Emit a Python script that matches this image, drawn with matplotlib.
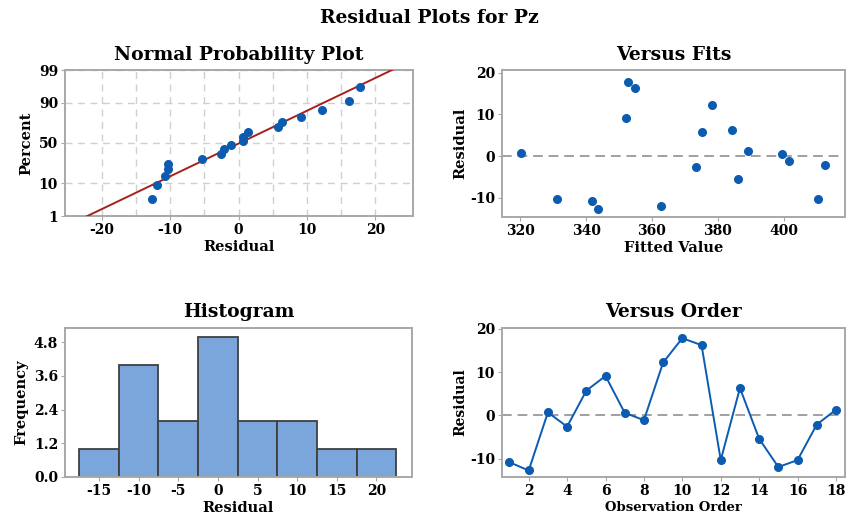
import numpy as np
import matplotlib
matplotlib.use("Agg")
import matplotlib.pyplot as plt
from statistics import NormalDist

# Residuos (orden de observacion 1..18)
orden = [1, 2, 3, 4, 5, 6, 7, 8, 9, 10, 11, 12, 13, 14, 15, 16, 17, 18]
residuos = [-10.8, -12.7, 0.7, -2.6, 5.7, 9.1, 0.6, -1.1, 12.2,
            17.8, 16.2, -10.3, 6.3, -5.4, -11.9, -10.3, -2.1, 1.3]
# Valores ajustados para cada observacion
ajustados = [341.8, 343.6, 320.3, 373.3, 375.1, 352.0, 399.6, 401.6, 378.4,
             352.8, 354.7, 331.2, 384.2, 386.1, 362.8, 410.6, 412.5, 389.2]
# Bordes de las clases del histograma
bordes_hist = [-17.5, -12.5, -7.5, -2.5, 2.5, 7.5, 12.5, 17.5, 22.5]
ticks_pct = [1, 10, 50, 90, 99]

azul = "#0B5BB0"
gris_borde = "#A8A8A8"
plt.rcParams['font.family'] = ['DejaVu Serif']
plt.rcParams['font.weight'] = 'bold'
plt.rcParams['axes.labelweight'] = 'bold'
plt.rcParams['axes.titleweight'] = 'bold'
plt.rcParams['axes.unicode_minus'] = False

fig = plt.figure(figsize=(8.59, 5.24), dpi=100)
W, H = 859, 524

def crear_ejes(x0, y0, x1, y1):
    ax = fig.add_axes([x0 / W, 1 - y1 / H, (x1 - x0) / W, (y1 - y0) / H])
    for s in ax.spines.values():
        s.set_color(gris_borde)
        s.set_linewidth(1.4)
    ax.tick_params(labelsize=10, length=3, color=gris_borde, pad=2)
    return ax

fig.text(0.5, 1 - 18 / H, "Residual Plots for Pz", ha="center", va="center",
         fontsize=13.5, fontweight="bold")

# ---- Normal Probability Plot ----
ax1 = crear_ejes(65, 70, 413, 216)
nd = NormalDist()
n = len(residuos)
r_ord = np.sort(residuos)
pct = (np.arange(1, n + 1) - 0.3) / (n + 0.4)
z = np.array([nd.inv_cdf(p) for p in pct])
media = np.mean(residuos)
desv = np.std(residuos, ddof=1)
z_min = nd.inv_cdf(0.01)
z_max = nd.inv_cdf(0.99)
zl = np.linspace(z_min - 0.3, z_max + 0.3, 50)
ax1.plot(media + desv * zl, zl, color="#A8201A", lw=1.4, zorder=3)
ax1.scatter(r_ord, z, s=30, color=azul, zorder=4)
ax1.set_xlim(-25.4, 25.5)
ax1.set_ylim(z_min, z_max)
ax1.set_yticks([nd.inv_cdf(p / 100) for p in ticks_pct])
ax1.set_yticklabels([str(p) for p in ticks_pct])
ax1.set_xticks([-20, -10, 0, 10, 20])
ax1.set_xticks(np.arange(-20, 21, 5), minor=True)
ax1.tick_params(which="minor", length=0)
ax1.grid(True, which="both", axis="x", color="#D0D0D0", ls=(0, (5, 4)), lw=1)
ax1.grid(True, axis="y", color="#D0D0D0", ls=(0, (5, 4)), lw=1)
ax1.set_axisbelow(True)
ax1.set_title("Normal Probability Plot", fontsize=13.5, pad=7)
ax1.set_xlabel("Residual", fontsize=10.5, labelpad=2)
ax1.set_ylabel("Percent", fontsize=10.5, labelpad=4)

# ---- Versus Fits ----
ax2 = crear_ejes(502, 70, 845, 217)
ax2.axhline(0, color="#A0A0A0", ls=(0, (5, 3)), lw=1.4, zorder=1)
ax2.scatter(ajustados, residuos, s=30, color=azul, zorder=3)
ax2.set_xlim(314.4, 418.7)
ax2.set_ylim(-14.6, 20.6)
ax2.set_xticks([320, 340, 360, 380, 400])
ax2.set_yticks([-10, 0, 10, 20])
ax2.set_title("Versus Fits", fontsize=13.5, pad=7)
ax2.set_xlabel("Fitted Value", fontsize=10.5, labelpad=2)
ax2.set_ylabel("Residual", fontsize=10.5, labelpad=2)

# ---- Histogram ----
ax3 = crear_ejes(65, 328, 412, 477)
ax3.hist(residuos, bins=bordes_hist, color="#7BA6DB", edgecolor="#404040",
         linewidth=1.3)
ax3.set_xlim(-19.3, 24.5)
ax3.set_ylim(0, 5.31)
ax3.set_xticks([-15, -10, -5, 0, 5, 10, 15, 20])
ax3.set_yticks([0.0, 1.2, 2.4, 3.6, 4.8])
ax3.set_yticklabels(["0.0", "1.2", "2.4", "3.6", "4.8"])
ax3.set_title("Histogram", fontsize=13.5, pad=8)
ax3.set_xlabel("Residual", fontsize=10.5, labelpad=2)
ax3.set_ylabel("Frequency", fontsize=10.5, labelpad=4)

# ---- Versus Order ----
ax4 = crear_ejes(502, 328, 845, 477)
ax4.axhline(0, color="#A0A0A0", ls=(0, (5, 3)), lw=1.4, zorder=1)
ax4.plot(orden, residuos, color=azul, lw=1.4, marker="o", ms=5.5, zorder=3)
ax4.set_xlim(0.61, 18.47)
ax4.set_ylim(-14.2, 20.15)
ax4.set_xticks(np.arange(2, 19, 2))
ax4.set_yticks([-10, 0, 10, 20])
ax4.set_title("Versus Order", fontsize=13.5, pad=8)
ax4.set_xlabel("Observation Order", fontsize=9.5, labelpad=2)
ax4.set_ylabel("Residual", fontsize=10, labelpad=2)

fig.savefig("out.png", dpi=100)
